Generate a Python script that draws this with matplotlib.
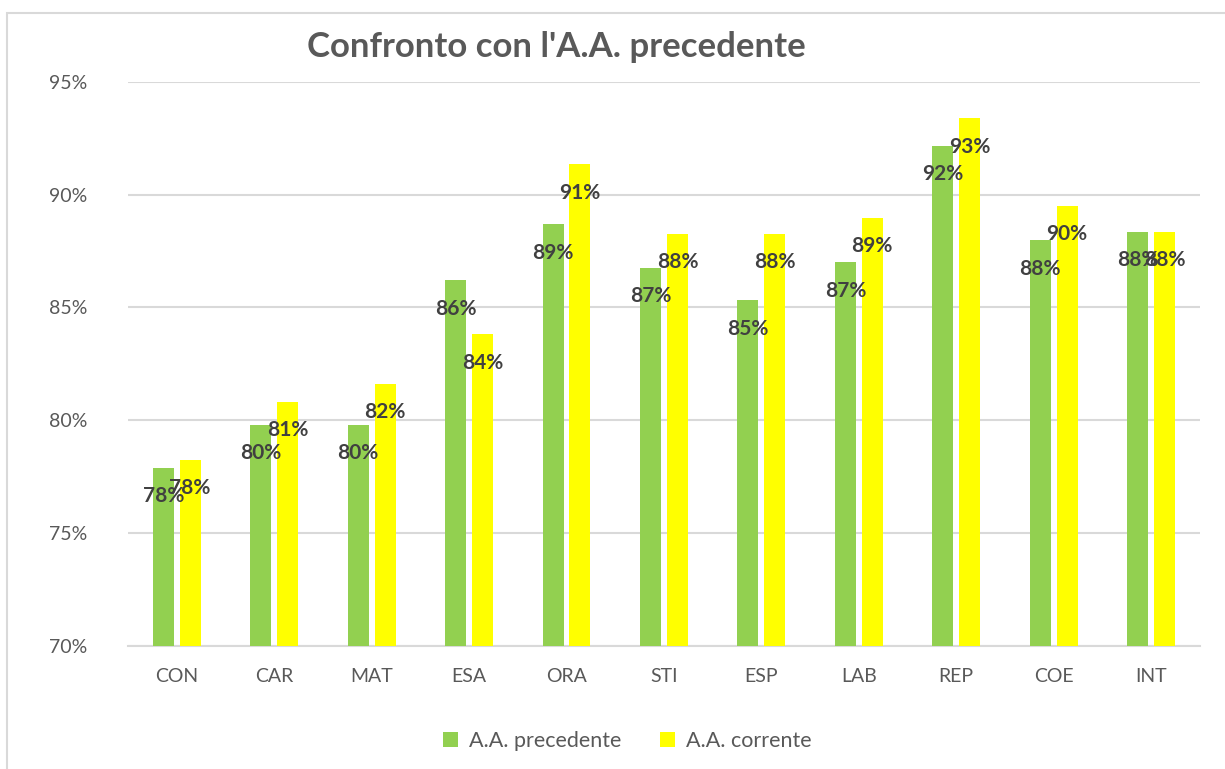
import matplotlib
matplotlib.use("Agg")
import matplotlib.pyplot as plt
import numpy as np
from matplotlib.patches import Rectangle

categorie = ["CON", "CAR", "MAT", "ESA", "ORA", "STI", "ESP", "LAB", "REP", "COE", "INT"]
precedente = [77.9, 79.8, 79.8, 86.2, 88.7, 86.75, 85.33, 87.0, 92.16, 87.99, 88.35]
corrente = [78.24, 80.81, 81.61, 83.82, 91.36, 88.26, 88.26, 88.97, 93.4, 89.5, 88.35]

plt.rcParams['font.family'] = ['Lato', 'DejaVu Sans']

fig = plt.figure(figsize=(12.25, 7.69), dpi=100)
ax = fig.add_axes([0.1045, 0.1603, 0.875, 0.7331])

# cornice esterna grigia
fig.patches.append(Rectangle((7 / 1225, -0.1), 1.2, 1 - 13 / 769 + 0.1,
                             transform=fig.transFigure, fill=False,
                             edgecolor="#D9D9D9", linewidth=1.5))

x = np.arange(len(categorie))
w = 0.215
off = 0.138
b1 = ax.bar(x - off, precedente, w, color="#92D050", label="A.A. precedente", zorder=3)
b2 = ax.bar(x + off, corrente, w, color="#FFFF00", label="A.A. corrente", zorder=3)

# etichette dentro la cima delle barre (come Excel)
for bars, vals in [(b1, precedente), (b2, corrente)]:
    for r, v in zip(bars, vals):
        ax.annotate(f"{v:.0f}%", (r.get_x() + r.get_width() / 2, v),
                    xytext=(0, -20.5), textcoords="offset points",
                    ha="center", va="center", fontsize=15, fontweight="bold",
                    color="#404040", zorder=4)

ax.set_ylim(70, 95)
ax.set_xlim(-0.5, len(categorie) - 0.5)
ax.set_yticks([70, 75, 80, 85, 90, 95])
ax.set_yticklabels([f"{t}%" for t in [70, 75, 80, 85, 90, 95]])
ax.set_xticks(x)
ax.set_xticklabels(categorie)
ax.tick_params(axis="both", length=0, colors="#595959", labelsize=14)
ax.tick_params(axis="y", pad=29)
ax.tick_params(axis="x", pad=16)
ax.grid(axis="y", color="#D9D9D9", linewidth=1.5, zorder=0)
for s in ["top", "right", "left"]:
    ax.spines[s].set_visible(False)
ax.spines["bottom"].set_color("#D9D9D9")
ax.spines["bottom"].set_linewidth(1.5)

fig.text(556 / 1225, 1 - 47 / 769, "Confronto con l'A.A. precedente",
         ha="center", va="center", fontsize=25, fontweight="bold", color="#595959")

fig.legend(loc="center", bbox_to_anchor=(627 / 1225, 1 - 741 / 769), ncol=2,
           frameon=False, fontsize=15.5, labelcolor="#595959",
           handlelength=0.7, handleheight=0.7, handletextpad=0.5, columnspacing=1.8)

fig.savefig("out.png", dpi=100)
